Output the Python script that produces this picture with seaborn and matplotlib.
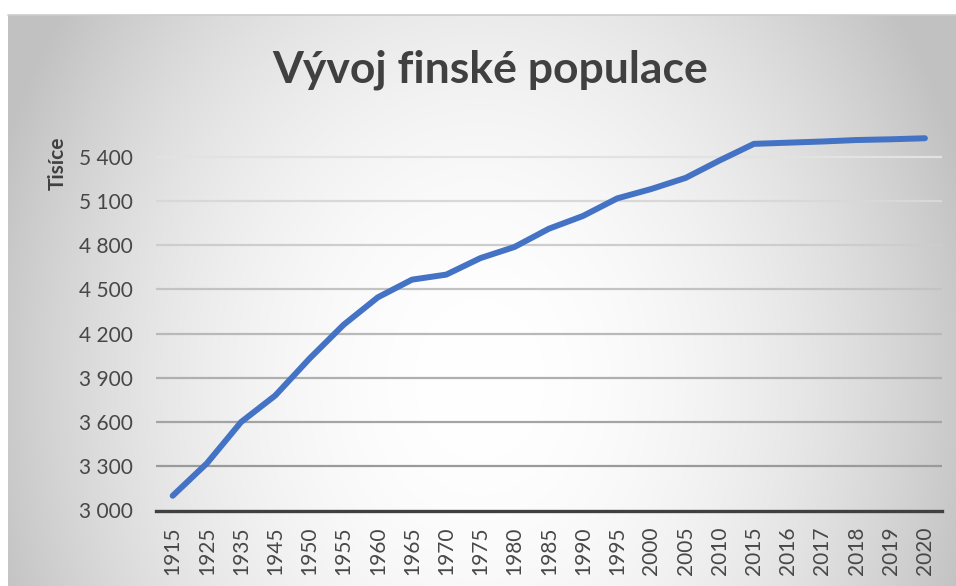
import numpy as np
import pandas as pd
import matplotlib
matplotlib.use('Agg')
import matplotlib.pyplot as plt
from matplotlib.lines import Line2D
import seaborn as sns

years = ['1915', '1925', '1935', '1945', '1950', '1955', '1960', '1965', '1970',
         '1975', '1980', '1985', '1990', '1995', '2000', '2005', '2010', '2015',
         '2016', '2017', '2018', '2019', '2020']
population = [3100, 3320, 3600, 3780, 4030, 4260, 4446, 4566, 4600,
              4712, 4788, 4911, 4998, 5117, 5181, 5256, 5375, 5487,
              5495, 5503, 5513, 5518, 5525]
y_ticks = [3000, 3300, 3600, 3900, 4200, 4500, 4800, 5100, 5400]
title = "Vývoj finské populace"
y_label = "Tisíce"

sns.set_theme(style='white')
plt.rcParams['font.family'] = ['Lato', 'DejaVu Sans']

W, H = 956, 586
fig = plt.figure(figsize=(W / 100, H / 100), dpi=100)
fig.patch.set_facecolor('white')

# radial gradient background of the chart area
bg = fig.add_axes([8 / W, 0, (W - 8) / W, (H - 15) / H], zorder=0)
xs = np.arange(8, W) + 0.5
ys = np.arange(15, H) + 0.5
X, Y = np.meshgrid(xs, ys)
r2 = ((X - 480) / 560) ** 2 + ((Y - 380) / 700) ** 2
dark = np.minimum(74 * r2, 62)
val = (255 - dark) / 255
img = np.dstack([val, val, val])
bg.imshow(img, aspect='auto', extent=[0, 1, 0, 1], origin='upper', interpolation='bilinear')
bg.axis('off')
fig.add_artist(Line2D([8 / W, 1], [1 - 15 / H] * 2, color='#cccccc', lw=1.2))

ax = fig.add_axes([155.6 / W, (H - 510.5) / H, (942 - 155.6) / W, (510.5 - 127.2) / H], zorder=1)
ax.patch.set_alpha(0)

df = pd.DataFrame({'Rok': years, 'Populace': population})
sns.lineplot(data=df, x='Rok', y='Populace', ax=ax, color='#4472C4', lw=4.3, sort=False,
             solid_capstyle='round', solid_joinstyle='round', clip_on=False, zorder=5)

ax.set_xlim(-0.5, len(years) - 0.5)
ax.set_ylim(3000, 5600)
ax.set_yticks(y_ticks)
ax.set_yticklabels([f"{v:,}".replace(',', ' ') for v in y_ticks])
ax.set_xlabel('')
ax.set_ylabel('')

for s in ['left', 'top', 'right']:
    ax.spines[s].set_visible(False)
ax.spines['bottom'].set_color('#404040')
ax.spines['bottom'].set_linewidth(2.4)
ax.spines['bottom'].set_zorder(4)

ax.yaxis.grid(True)
ax.xaxis.grid(False)
gl = ax.get_ygridlines()
c_bot = np.array([0x9a, 0x9a, 0x9a]) / 255
c_top = np.array([0xe2, 0xe2, 0xe2]) / 255
for i, line in enumerate(gl):
    t = (i - 1) / (len(gl) - 2) if i > 0 else 0
    line.set_color(tuple(c_bot + (c_top - c_bot) * t))
    line.set_linewidth(1.6)
    if i == 0:
        line.set_visible(False)

ax.tick_params(axis='y', length=0, pad=16.3, labelsize=15, labelcolor='#474747')
ax.tick_params(axis='x', length=0, pad=11.5, labelsize=15, labelcolor='#474747', rotation=90)
for lab in ax.get_xticklabels():
    lab.set_va('top')

fig.text(490 / W, 1 - 82 / H, title, ha='center', va='baseline', fontsize=32,
         fontweight='bold', color='#404040')
fig.text(57.5 / W, 1 - 163 / H, y_label, ha='center', va='center', rotation=90,
         fontsize=15, fontweight='bold', color='#404040')

fig.savefig('out.png', dpi=100)
